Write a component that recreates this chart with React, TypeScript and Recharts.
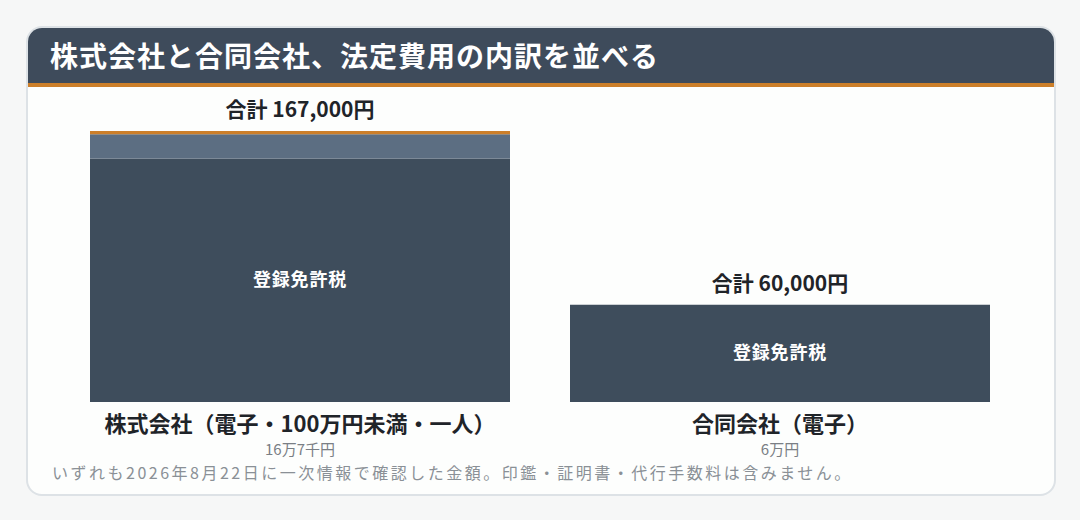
import React from 'react';
import { BarChart, Bar, XAxis, YAxis, LabelList } from 'recharts';

const categories = ['株式会社（電子・100万円未満・一人）', '合同会社（電子）'];
const subLabels = ['16万7千円', '6万円'];
const registrationTax = [150000, 60000];
const notaryFee = [15000, 0];
const copyFee = [2000, 0];

const FONT = '"Noto Sans CJK JP", "Noto Sans", sans-serif';

const data = categories.map((name, i) => ({
  name,
  sub: subLabels[i],
  registrationTax: registrationTax[i],
  notaryFee: notaryFee[i],
  copyFee: copyFee[i],
  total: registrationTax[i] + notaryFee[i] + copyFee[i],
}));

const CategoryTick = (props: any) => {
  const { x, y, payload, index } = props;
  return (
    <g>
      <text x={x} y={y + 30} textAnchor="middle" fontSize={22} fontWeight={700} fill="#1f2429" fontFamily={FONT}>
        {payload.value}
      </text>
      <text x={x} y={y + 53} textAnchor="middle" fontSize={15} fill="#7a7f85" fontFamily={FONT}>
        {subLabels[index]}
      </text>
    </g>
  );
};

// label drawn on the bottom segment; the stack top is found from its own scale
const SegmentLabels = (props: any) => {
  const { x, y, width, height, index } = props;
  const row = data[index];
  const pxPerYen = height / row.registrationTax;
  const top = y + height - row.total * pxPerYen;
  return (
    <g fontFamily={FONT}>
      <text x={x + width / 2} y={y + height / 2} dy={6} textAnchor="middle" fontSize={18} fontWeight={700} fill="#ffffff" letterSpacing={0.8}>
        登録免許税
      </text>
      <text x={x + width / 2} y={top - 14} textAnchor="middle" fontSize={21} fontWeight={700} fill="#1f2429">
        {`合計 ${row.total.toLocaleString('en-US')}円`}
      </text>
    </g>
  );
};

const App: React.FC = () => {
  return (
    <div style={{ position: 'fixed', top: 0, left: 0, width: 1080, height: 520, background: '#f6f7f7', fontFamily: FONT }}>
      <div
        style={{
          position: 'absolute',
          left: 26,
          top: 26,
          width: 1026,
          height: 466,
          background: '#fdfefd',
          border: '2px solid #dde2e6',
          borderRadius: 16,
          overflow: 'hidden',
        }}
      >
        <div
          style={{
            height: 55,
            background: '#3e4b5b',
            borderBottom: '4px solid #cc7f2a',
            color: '#ffffff',
            fontSize: 28,
            fontWeight: 700,
            letterSpacing: 1,
            lineHeight: '55px',
            paddingLeft: 22,
          }}
        >
          株式会社と合同会社、法定費用の内訳を並べる
        </div>
      </div>
      <div style={{ position: 'absolute', top: 0, left: 0 }}>
        <BarChart
          width={1080}
          height={520}
          data={data}
          margin={{ top: 131, right: 60, left: 60, bottom: 58 }}
          barCategoryGap={30}
        >
          <XAxis
            dataKey="name"
            axisLine={false}
            tickLine={false}
            tickSize={0}
            tickMargin={0}
            height={60}
            interval={0}
            tick={<CategoryTick />}
          />
          <YAxis hide domain={[0, 167000]} />
          <Bar dataKey="registrationTax" name="登録免許税" stackId="a" fill="#3e4d5c" isAnimationActive={false}>
            <LabelList dataKey="registrationTax" content={<SegmentLabels />} />
          </Bar>
          <Bar dataKey="notaryFee" name="定款認証手数料" stackId="a" fill="#5c6e82" isAnimationActive={false} />
          <Bar dataKey="copyFee" name="謄本手数料" stackId="a" fill="#cc7f2a" isAnimationActive={false} />
        </BarChart>
      </div>
      <div
        style={{
          position: 'absolute',
          left: 52,
          top: 460,
          fontSize: 16,
          letterSpacing: 2.5,
          color: '#8a9096',
          whiteSpace: 'nowrap',
        }}
      >
        いずれも2026年8月22日に一次情報で確認した金額。印鑑・証明書・代行手数料は含みません。
      </div>
    </div>
  );
};

export default App;
